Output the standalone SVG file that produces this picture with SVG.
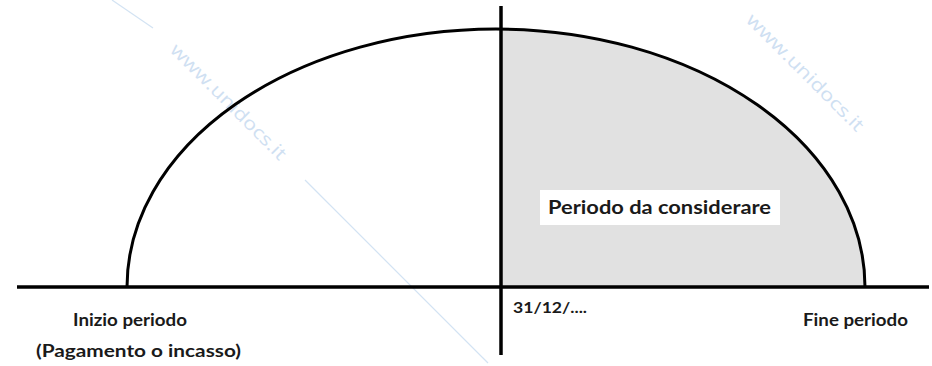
<svg xmlns="http://www.w3.org/2000/svg" width="932" height="366" viewBox="0 0 932 366">
<style>
.ln{stroke:#000;stroke-width:3.5;fill:none}
.arc{stroke:#000;stroke-width:3;fill:none}
.t{font-family:Lato,"Open Sans","Liberation Sans",sans-serif;font-weight:bold;fill:#1a1a1a}
.wm{font-family:"Open Sans","Liberation Sans",sans-serif;font-size:18px;fill:#cfe0f2}
.wl{stroke:#d3e3f3;stroke-width:1.2}
</style>
<rect width="932" height="366" fill="#fff"/>
<g id="shaded-period">
<path d="M500 287 V29 A369 258 0 0 1 865 287 Z" fill="#e1e1e1"/>
</g>
<g id="watermark">
<line class="wl" x1="112" y1="0" x2="153" y2="28"/>
<line class="wl" x1="305" y1="180" x2="488" y2="363"/>
<text class="wm" x="169" y="51" transform="rotate(45 169 51)" textLength="156" lengthAdjust="spacingAndGlyphs">www.unidocs.it</text>
<text class="wm" x="745" y="21" transform="rotate(45 745 21)" textLength="158" lengthAdjust="spacingAndGlyphs">www.unidocs.it</text>
</g>
<g id="connectors">
<path id="period-arc" class="arc" d="M127 287 A369 258 0 0 1 865 287"/>
<line id="time-axis" class="ln" x1="17" y1="287" x2="929" y2="287"/>
<line id="year-end-line" class="ln" x1="501" y1="6" x2="501" y2="355"/>
</g>
<g id="label-periodo">
<rect x="540" y="190" width="240" height="35" fill="#fff"/>
<text class="t" x="548" y="214" font-size="19" textLength="223" lengthAdjust="spacingAndGlyphs">Periodo da considerare</text>
</g>
<g id="label-inizio">
<text class="t" x="73" y="326" font-size="16.5" textLength="114" lengthAdjust="spacingAndGlyphs">Inizio periodo</text>
<text class="t" x="36" y="357" font-size="16.5" textLength="205" lengthAdjust="spacingAndGlyphs">(Pagamento o incasso)</text>
</g>
<g id="label-data">
<text class="t" x="513" y="313" font-size="15.5" textLength="74" lengthAdjust="spacingAndGlyphs">31/12/....</text>
</g>
<g id="label-fine">
<text class="t" x="803" y="326" font-size="16.5" textLength="105" lengthAdjust="spacingAndGlyphs">Fine periodo</text>
</g>
</svg>
